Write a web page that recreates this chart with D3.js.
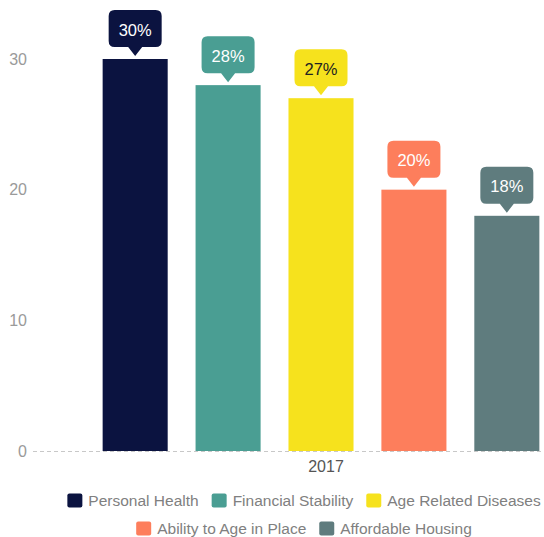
<!DOCTYPE html>
<html>
<head>
<meta charset="utf-8">
<script src="https://cdn.jsdelivr.net/npm/d3@7"></script>
<style>
  html, body { margin: 0; padding: 0; background: #fff; }
  svg { display: block; font-family: "Liberation Sans", Arial, Helvetica, sans-serif; }
</style>
</head>
<body>
<svg id="chart" width="544" height="537"></svg>
<script>
// Survey categories for 2017 and their shares (%)
const groups = ["2017"];
const categories = ["Personal Health", "Financial Stability", "Age Related Diseases", "Ability to Age in Place", "Affordable Housing"];
const values = [30, 28, 27, 20, 18];
const colors = ["#0b1340", "#4a9e93", "#f6e21d", "#fd7e5c", "#5f7c7e"];
const labelColors = ["#ffffff", "#ffffff", "#222222", "#ffffff", "#ffffff"];
const yTicks = [0, 10, 20, 30];
const legendRows = [[0, 1, 2], [3, 4]];

const FONT = "\"Liberation Sans\", Arial, sans-serif";
const svg = d3.select("#chart");

// Scales
const y = d3.scaleLinear().domain([0, 30]).range([451, 59]);
const x0 = d3.scaleBand().domain(groups).range([33, 619]);
const x1 = d3.scaleBand().domain(categories).range([98, 544]).paddingInner(0.30).paddingOuter(0.05);
const color = d3.scaleOrdinal().domain(categories).range(colors);

// Y axis: labels only
const yAxis = svg.append("g")
  .attr("transform", "translate(27,0)")
  .call(d3.axisLeft(y).tickValues(yTicks).tickSize(0).tickPadding(0));
yAxis.select(".domain").remove();
yAxis.selectAll("text")
  .attr("fill", "#9a9a9a")
  .style("font-size", "16px")
  .style("font-family", FONT);

// Bars
const data = categories.map((c, i) => ({ cat: c, value: values[i], labelColor: labelColors[i] }));
svg.append("g").selectAll("rect")
  .data(data)
  .join("rect")
  .attr("x", d => x1(d.cat))
  .attr("y", d => y(d.value))
  .attr("width", x1.bandwidth())
  .attr("height", d => y(0) - y(d.value))
  .attr("fill", d => color(d.cat));

// Dashed baseline
svg.append("line")
  .attr("x1", 33).attr("x2", 544)
  .attr("y1", y(0) + 0.5).attr("y2", y(0) + 0.5)
  .attr("stroke", "#c8c8c8")
  .attr("stroke-width", 1)
  .attr("stroke-dasharray", "4,3");

// X axis label
const xAxis = svg.append("g")
  .attr("transform", `translate(0,${y(0) + 10})`)
  .call(d3.axisBottom(x0).tickSize(0).tickPadding(0));
xAxis.select(".domain").remove();
xAxis.selectAll("text")
  .attr("fill", "#555")
  .attr("dy", "0.71em")
  .style("font-size", "16px")
  .style("font-family", FONT);

// Value callouts: rounded box with a downward pointer
const boxW = 53, boxH = 37, ptrH = 9, ptrW = 14, gap = 3, r = 6;
function calloutPath(cx, tipY) {
  const bottom = tipY - ptrH;
  const top = bottom - boxH;
  const l = cx - boxW / 2, rr = cx + boxW / 2;
  return `M${l + r},${top}` +
    `H${rr - r}Q${rr},${top} ${rr},${top + r}` +
    `V${bottom - r}Q${rr},${bottom} ${rr - r},${bottom}` +
    `H${cx + ptrW / 2}L${cx},${tipY}L${cx - ptrW / 2},${bottom}` +
    `H${l + r}Q${l},${bottom} ${l},${bottom - r}` +
    `V${top + r}Q${l},${top} ${l + r},${top}Z`;
}
const callouts = svg.append("g").selectAll("g")
  .data(data)
  .join("g");
callouts.append("path")
  .attr("d", d => calloutPath(x1(d.cat) + x1.bandwidth() / 2, y(d.value) - gap))
  .attr("fill", d => color(d.cat));
callouts.append("text")
  .attr("x", d => x1(d.cat) + x1.bandwidth() / 2)
  .attr("y", d => y(d.value) - gap - ptrH - boxH / 2 + 1)
  .attr("text-anchor", "middle")
  .attr("dominant-baseline", "central")
  .attr("fill", d => d.labelColor)
  .style("font-size", "16.5px")
  .text(d => d.value + "%");

// Legend, two centred rows
const legendCenter = 304;
const rowY = [500.5, 528.5];
const sw = 15, swGap = 6, itemGap = 13;
legendRows.forEach((row, ri) => {
  const g = svg.append("g");
  const items = row.map(i => {
    const item = g.append("g");
    item.append("rect")
      .attr("width", sw).attr("height", sw - 1)
      .attr("rx", 2)
      .attr("y", -(sw - 1) / 2)
      .attr("fill", colors[i]);
    const t = item.append("text")
      .attr("x", sw + swGap)
      .attr("dominant-baseline", "central")
      .attr("fill", "#808080")
      .style("font-size", "15.5px")
      .text(categories[i]);
    return { item, w: sw + swGap + t.node().getComputedTextLength() };
  });
  const total = d3.sum(items, d => d.w) + itemGap * (items.length - 1);
  let xPos = legendCenter - total / 2;
  items.forEach(d => {
    d.item.attr("transform", `translate(${xPos},${rowY[ri]})`);
    xPos += d.w + itemGap;
  });
});
</script>
</body>
</html>
